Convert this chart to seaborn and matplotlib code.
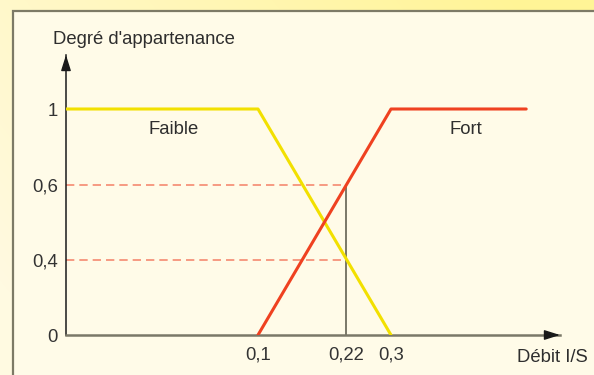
import numpy as np
import seaborn as sns
import matplotlib.pyplot as plt
from matplotlib.patches import Rectangle

# fonctions d'appartenance (débit I/S -> degré)
debit_faible = [0.0, 0.1, 0.3]
degre_faible = [1.0, 1.0, 0.0]
debit_fort = [0.1, 0.3, 0.5]
degre_fort = [0.0, 1.0, 1.0]

# mesure
debit_mesure = 0.22
degres_mesure = [0.4, 0.6]

y_ticks = [0, 0.4, 0.6, 1]
y_labels = ['0', '0,4', '0,6', '1']
x_ticks = [0.1, 0.22, 0.3]
x_labels = ['0,1', '0,22', '0,3']

# schéma : graduations non proportionnelles
x_knots = [0, 0.1, 0.22, 0.3, 0.55]
x_px = [0, 192, 280, 325, 494]
y_knots = [0, 0.4, 0.6, 1, 1.3]
y_px = [0, 75, 150, 226, 280]


def make_scale(knots, px):
    fwd = lambda v: np.interp(v, knots, px)
    inv = lambda v: np.interp(v, px, knots)
    return fwd, inv


sns.set_style("white")
plt.rcParams['font.family'] = ['Liberation Sans', 'DejaVu Sans']

W, H = 594, 375
fig = plt.figure(figsize=(W / 100, H / 100), dpi=100)

# fond dégradé + cadre
bg = fig.add_axes([0, 0, 1, 1], zorder=-10)
bg.axis('off')
yy, xx = np.mgrid[0:1:H * 1j, 0:1:W * 1j]
t = np.clip(xx * 0.8 + (1 - yy) * 0.4 - 0.1, 0, 1)[..., None]
c0 = np.array([255, 250, 225]) / 255
c1 = np.array([255, 244, 150]) / 255
bg.imshow(c0 * (1 - t) + c1 * t, extent=[0, 1, 0, 1], aspect='auto')
bg.set_xlim(0, 1)
bg.set_ylim(0, 1)
bg.add_patch(Rectangle((13 / W, -0.1), 1.2, 1 - 11 / H + 0.1,
                       fc='#fffbe8', ec='#7d7a66', lw=1.6))

ax = fig.add_axes([66 / W, 40 / H, 494 / W, 280 / H])
ax.set_facecolor('none')
ax.set_xscale('function', functions=make_scale(x_knots, x_px))
ax.set_yscale('function', functions=make_scale(y_knots, y_px))

for d in degres_mesure:
    ax.plot([0, debit_mesure], [d, d], color='#f58a70', lw=1.2,
            dashes=(5, 3), zorder=2)
ax.plot([debit_mesure, debit_mesure], [0, max(degres_mesure)],
        color='#7a7868', lw=1.4, zorder=2)

sns.lineplot(x=debit_faible, y=degre_faible, color='#f2e000', lw=2.2, ax=ax, zorder=3)
sns.lineplot(x=debit_fort, y=degre_fort, color='#ef4120', lw=2.2, ax=ax, zorder=4)

ax.set_xlim(0, 0.55)
ax.set_ylim(0, 1.3)
ax.set_xticks(x_ticks, x_labels)
ax.set_yticks(y_ticks, y_labels)
ax.minorticks_off()
ax.tick_params(axis='both', length=0, labelsize=13.3, labelcolor='#333333')
ax.tick_params(axis='x', pad=8)
ax.tick_params(axis='y', pad=6)
ax.set_xlabel('')
ax.set_ylabel('')

for s in ['top', 'right']:
    ax.spines[s].set_visible(False)
ax.spines['left'].set_color('#1a1a1a')
ax.spines['left'].set_linewidth(1.1)
ax.spines['bottom'].set_color('#7a7868')
ax.spines['bottom'].set_linewidth(1.8)

head = dict(arrowstyle='-|>,head_length=0.95,head_width=0.3', color='#1a1a1a',
            lw=1, shrinkA=0, shrinkB=0)
ax.annotate('', xy=(0, 1), xytext=(0, 0.95), xycoords='axes fraction',
            arrowprops=head, annotation_clip=False)
ax.annotate('', xy=(1, 0), xytext=(0.97, 0), xycoords='axes fraction',
            arrowprops=head, annotation_clip=False)

txt = dict(size=13.3, color='#2e2e2e', va='center')
fig.text(53 / W, 1 - 40 / H, "Degré d'appartenance", ha='left', **txt)
fig.text(174 / W, 1 - 129 / H, 'Faible', ha='center', **txt)
fig.text(466 / W, 1 - 130 / H, 'Fort', ha='center', **txt)
fig.text(552 / W, 1 - 357 / H, 'Débit I/S', ha='center', **txt)

fig.savefig('out.png', dpi=100)
